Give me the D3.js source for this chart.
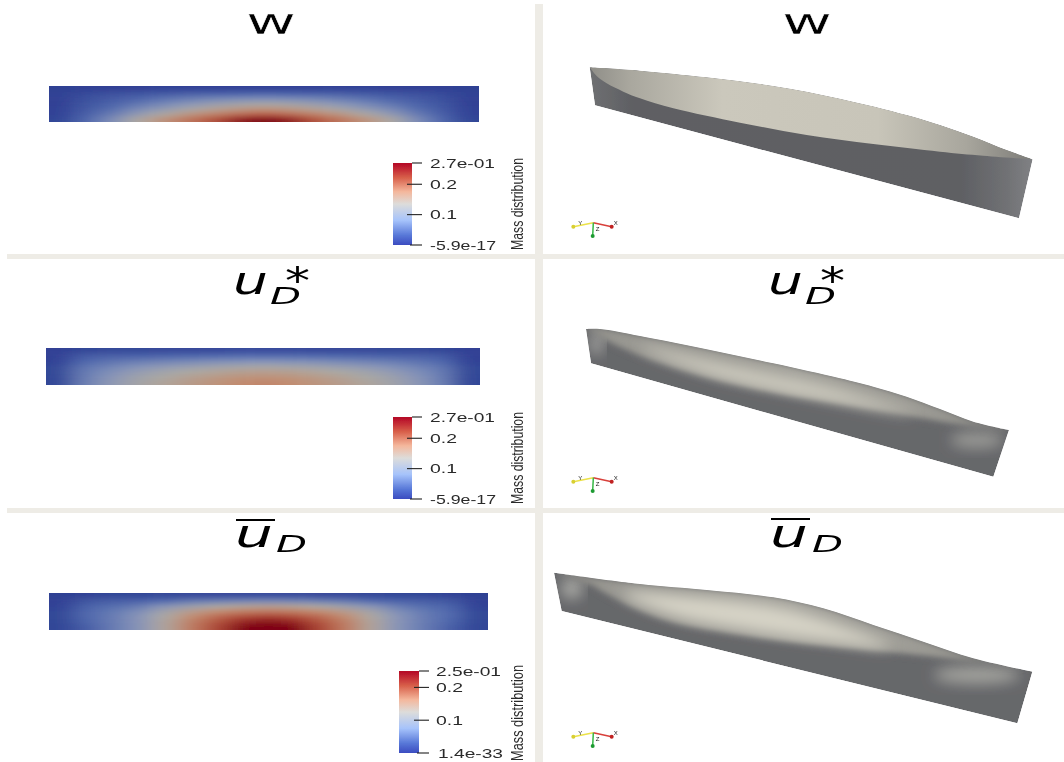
<!DOCTYPE html>
<html><head><meta charset="utf-8">
<script src="https://cdnjs.cloudflare.com/ajax/libs/d3/7.8.5/d3.min.js"></script>
<style>html,body{margin:0;padding:0;background:#fff;overflow:hidden}svg{display:block}</style>
</head><body><svg id="c" width="1064" height="762"></svg>
<script>
// Field values (fraction of colour range), left half to centre, rows top to bottom; fields are mirror symmetric.
const fieldW = [
 [.02,.03,.03,.03,.04,.04,.04,.04,.04],
 [.02,.06,.09,.11,.13,.15,.16,.17,.18],
 [.03,.09,.14,.18,.23,.27,.30,.32,.33],
 [.03,.12,.18,.25,.31,.37,.42,.46,.48],
 [.04,.14,.22,.32,.40,.47,.54,.59,.62],
 [.04,.17,.27,.40,.50,.60,.68,.75,.80],
 [.05,.20,.33,.50,.62,.72,.82,.95,1.08]];
const fieldStar = [
 [.03,.05,.06,.06,.07,.07,.07,.08,.08],
 [.03,.14,.16,.17,.18,.19,.20,.21,.21],
 [.04,.20,.24,.27,.29,.31,.33,.34,.35],
 [.05,.24,.29,.34,.38,.41,.44,.46,.47],
 [.05,.26,.33,.40,.45,.49,.52,.55,.56],
 [.05,.27,.36,.44,.49,.54,.58,.61,.62],
 [.05,.28,.38,.46,.52,.57,.61,.65,.67]];
const fieldBar = [
 [.02,.04,.05,.05,.06,.07,.07,.08,.08],
 [.03,.12,.15,.17,.20,.25,.27,.29,.30],
 [.04,.18,.22,.27,.36,.43,.49,.53,.55],
 [.05,.20,.26,.33,.46,.57,.65,.70,.72],
 [.05,.20,.27,.36,.50,.65,.76,.84,.87],
 [.05,.19,.27,.36,.52,.69,.82,.93,.98],
 [.05,.16,.27,.36,.52,.70,.85,1.0,1.12]];
const legendMaxes = [0.27, 0.27, 0.25];
const legendTicks = [0.1, 0.2];
const legendMinLabels = ["-5.9e-17", "-5.9e-17", "1.4e-33"];
const legendMaxLabels = ["2.7e-01", "2.7e-01", "2.5e-01"];
const legendTitle = "Mass distribution";

const topEdgeW = [[149,202],[300,212],[500,232],[700,258],[900,296],[1100,345],[1200,375],[1300,410],[1400,450],[1478,478]];
const innerEdgeW = [[149,202],[170,228],[200,250],[250,275],[300,295],[400,325],[600,368],[800,405],[1000,432],[1200,455],[1330,467],[1478,478]];
const bottomEdgeW = [[165,316],[1437,655]];
const topEdgeStar = [[138,222],[180,222],[300,243],[500,283],[700,325],[900,370],[1000,395],[1100,425],[1200,462],[1300,500],[1407,525]];
const innerEdgeStar = [[170,240],[300,300],[500,365],[700,410],[900,445],[1100,480],[1250,505],[1390,525]];
const bottomEdgeStar = [[153,325],[1360,665]];
const coreStar = [[300,275],[500,320],[700,365],[900,410],[1120,480],[900,440],[700,400],[500,352]];
const topEdgeBar = [[42,188],[300,222],[500,240],[700,262],[850,295],[1000,345],[1150,395],[1300,445],[1477,485]];
const innerEdgeBar = [[160,225],[200,250],[300,300],[400,335],[600,372],[800,400],[1000,420],[1200,440],[1320,455]];
const bottomEdgeBar = [[65,303],[1432,640]];
const coreBar = [[250,250],[500,265],[700,290],[850,330],[1050,410],[850,390],[600,355],[400,315]];
const patchesStar = [[170,265,22,34,"#a0a09e"],[1310,555,80,24,"#9a9a96"]];
const patchesBar = [[95,235,34,32,"#a6a6a2"],[1310,495,130,26,"#a3a39e"]];
const triadAxes = [["#ece24a",100,680,"Y"],["#d8403a",215,680,"X"],["#35b845",158,708,"Z"]];

const svg = d3.select("#c");
const defs = svg.append("defs");
const fieldColor = d3.scaleLinear()
  .domain([0,.2,.35,.5,.65,.8,.9,1])
  .range(["#2a3a90","#4f68ad","#8493ba","#aca9a2","#c28c70","#b85a44","#a03028","#7f0518"])
  .clamp(true);
const legendStops = [[0,"#3b4cc0"],[.12,"#5878d8"],[.3,"#a6c3fb"],[.5,"#dddcda"],[.65,"#f4b79c"],[.82,"#d8604a"],[1,"#b40426"]];

const f = (id,a)=>defs.append("filter").attr("id",id).attr("x","-20%").attr("y","-60%").attr("width","140%").attr("height","220%")
  .append("feGaussianBlur").attr("stdDeviation",a);
f("fb","11 2.4"); f("soft",.45); f("s4",4); f("s7",7); f("s2",2); f("s10",10);
const lg = defs.append("linearGradient").attr("id","lg").attr("x1",0).attr("x2",0).attr("y1",1).attr("y2",0);
legendStops.forEach(s=>lg.append("stop").attr("offset",s[0]).attr("stop-color",s[1]));
const grad=(id,st)=>{const g=defs.append("linearGradient").attr("id",id);st.forEach(s=>g.append("stop").attr("offset",s[0]).attr("stop-color",s[1]));};
grad("topW",[[0,"#8f8e88"],[.09,"#a9a79e"],[.3,"#cbc8bc"],[.65,"#c8c5b9"],[.85,"#a8a69d"],[1,"#7d7c78"]]);
grad("sideW",[[0,"#6f7072"],[.1,"#5e5f63"],[.84,"#5f6064"],[.94,"#707174"],[1,"#808184"]]);
grad("band",[[0,"#7c7c7a"],[.5,"#9a9994"],[1,"#7a7a78"]]);

// Frame
const frame = "#eeece6";
[[7,254,1057,5],[7,508,1057,5],[535,4,8,758]].forEach(r=>svg.append("rect").attr("x",r[0]).attr("y",r[1]).attr("width",r[2]).attr("height",r[3]).attr("fill",frame));

// Heat-map panels
[{d:fieldW,x:[49,479],y:[86,122]},{d:fieldStar,x:[46,480],y:[348,385]},{d:fieldBar,x:[49,488],y:[593,630]}].forEach((p,i)=>{
  const rows=p.d.map(r=>r.concat(r.slice(0,-1).reverse()));
  const xs=d3.scaleBand().domain(d3.range(17)).range(p.x);
  const ys=d3.scaleBand().domain(d3.range(7)).range(p.y);
  defs.append("clipPath").attr("id","cp"+i).append("rect").attr("x",p.x[0]).attr("y",p.y[0]).attr("width",p.x[1]-p.x[0]).attr("height",p.y[1]-p.y[0]);
  const g=svg.append("g").attr("filter","url(#soft)").append("g").attr("clip-path",`url(#cp${i})`).append("g").attr("filter","url(#fb)");
  rows.forEach((r,ri)=>r.forEach((v,ci)=>{
    const ex0=ci===0?30:0, ex1=ci===16?30:0, ey0=ri===0?14:0, ey1=ri===6?14:0;
    g.append("rect").attr("x",xs(ci)-ex0).attr("y",ys(ri)-ey0)
     .attr("width",xs.bandwidth()+ex0+ex1+.5).attr("height",ys.bandwidth()+ey0+ey1+.5).attr("fill",fieldColor(v));
  }));
});

// Colour legends
const labelFont="'Liberation Sans',sans-serif";
function txt(parent,s,x,y,size,len,opt={}){
  return parent.append("text").attr("x",x).attr("y",y).attr("font-family",opt.font||labelFont)
    .attr("font-size",size).attr("font-style",opt.italic?"italic":"normal").attr("fill",opt.fill||"#2a2a2a")
    .attr("textLength",len).attr("lengthAdjust","spacingAndGlyphs").text(s);
}
[{x:393,w:19,y:[245,163],lx:430,tx:509,ty:250,tl:92,ml:65,nl:66},
 {x:393,w:19,y:[499,417],lx:430,tx:509,ty:504,tl:92,ml:65,nl:66},
 {x:399,w:20,y:[753,671],lx:436,tx:509,ty:761,tl:96,ml:65,nl:65}].forEach((l,i)=>{
  const g=svg.append("g").attr("filter","url(#soft)");
  const sc=d3.scaleLinear().domain([0,legendMaxes[i]]).range(l.y);
  g.append("rect").attr("x",l.x).attr("y",l.y[1]).attr("width",l.w).attr("height",l.y[0]-l.y[1]).attr("fill","url(#lg)");
  const tk=(v,len,lab,dx,w)=>{
    const yy=sc(v);
    g.append("line").attr("x1",l.x+l.w+10-len).attr("x2",l.x+l.w+10).attr("y1",yy).attr("y2",yy).attr("stroke","#222").attr("stroke-width",1.1);
    txt(g,lab,l.lx+dx,yy+4.5,13.5,w);
  };
  tk(legendMaxes[i],10,legendMaxLabels[i],0,l.ml);
  legendTicks.forEach(v=>tk(v,15,String(v),0,27));
  tk(0,12,legendMinLabels[i],i===2?2:0,l.nl);
  g.append("text").attr("transform",`translate(${l.tx+14},${l.ty}) rotate(-90)`)
    .attr("font-family",labelFont).attr("font-size",17).attr("fill","#2a2a2a")
    .attr("textLength",l.tl).attr("lengthAdjust","spacingAndGlyphs").text(legendTitle);
});

// Solid panels: crop units -> page through linear scales
function panel(y0){
  const x=d3.scaleLinear().domain([0,1572]).range([540,1064]);
  const y=d3.scaleLinear().domain([0,765]).range([y0,y0+255]);
  const pt=c=>d3.line().x(d=>x(d[0])).y(d=>y(d[1])).curve(c);
  return {x,y,smooth:pt(d3.curveCatmullRom.alpha(.5)),closed:pt(d3.curveCatmullRomClosed.alpha(.5)),line:pt(d3.curveLinear)};
}
function solid(id,y0,top,inner,bottom,core,patches){
  const P=panel(y0);
  const outlineD=P.smooth(top)+"L"+P.line(bottom.slice().reverse()).slice(1)+"Z";
  const lensD=P.smooth(top)+"L"+P.smooth(inner.slice().reverse()).slice(1)+"Z";
  defs.append("clipPath").attr("id",id).append("path").attr("d",outlineD);
  const g=svg.append("g").attr("filter","url(#soft)").append("g").attr("clip-path",`url(#${id})`);
  if(!core){
    g.append("path").attr("d",outlineD).attr("fill","url(#sideW)");
    g.append("path").attr("d",lensD).attr("fill","url(#topW)");
  } else {
    g.append("path").attr("d",outlineD).attr("fill","#66676a");
    patches.forEach(q=>g.append("ellipse").attr("cx",P.x(q[0])).attr("cy",P.y(q[1])).attr("rx",P.x(q[2])-540).attr("ry",P.y(q[3])-y0)
      .attr("fill",q[4]).attr("filter","url(#s7)"));
    g.append("path").attr("d",lensD).attr("fill","url(#band)").attr("filter","url(#s2)");
    g.append("path").attr("d",lensD).attr("fill","#b3b1a7").attr("opacity",.5).attr("filter","url(#s4)");
    g.append("path").attr("d",P.closed(core)).attr("fill","#d6d3c6").attr("filter","url(#s7)");
  }
  // triad
  const t=svg.append("g").attr("filter","url(#soft)");
  const ox=160, oy=668;
  triadAxes.forEach(a=>{
    t.append("line").attr("x1",P.x(ox)).attr("y1",P.y(oy)).attr("x2",P.x(a[1])).attr("y2",P.y(a[2]))
      .attr("stroke",a[0]).attr("stroke-width",1.5);
    t.append("circle").attr("cx",P.x(a[1])).attr("cy",P.y(a[2])).attr("r",2).attr("fill",a[3]==="Y"?"#d8cf30":(a[3]==="X"?"#c02020":"#1f9a30"));
    t.append("text").attr("x",P.x(a[1])+(a[3]==="Y"?5:a[3]==="X"?2:3)).attr("y",P.y(a[2])-(a[3]==="Z"?5:1.5))
      .attr("font-family",labelFont).attr("font-size",6).attr("fill","#222").text(a[3]);
  });
}
solid("s1",0,topEdgeW,innerEdgeW,bottomEdgeW);
solid("s2c",255,topEdgeStar,innerEdgeStar,bottomEdgeStar,coreStar,patchesStar);
solid("s3c",510,topEdgeBar,innerEdgeBar,bottomEdgeBar,coreBar,patchesBar);

// Titles
const titleFont="'DejaVu Sans',sans-serif";
const tg=svg.append("g").attr("filter","url(#soft)");
const T=(s,x,y,size,len,it)=>txt(tg,s,x,y,size,len,{font:titleFont,italic:it,fill:"#000"});
T("w",246,34,36,50).attr("stroke","#fff").attr("stroke-width",.35);
T("w",782,34,36,50).attr("stroke","#fff").attr("stroke-width",.35);
function star(x){
  T("u",x,294,37,35,true); T("D",x+37,304,23,31,true); T("*",x+52,294,38,25,false);
}
star(233); star(768);
function bar(x,lx,ly,dx){
  T("u",x,547,37,38,true); T("D",x+dx,552,23,31,true);
  tg.append("line").attr("x1",lx).attr("x2",lx+39).attr("y1",ly).attr("y2",ly).attr("stroke","#000").attr("stroke-width",2);
}
bar(235,236,520,41); bar(770,771,519,42);
</script></body></html>
